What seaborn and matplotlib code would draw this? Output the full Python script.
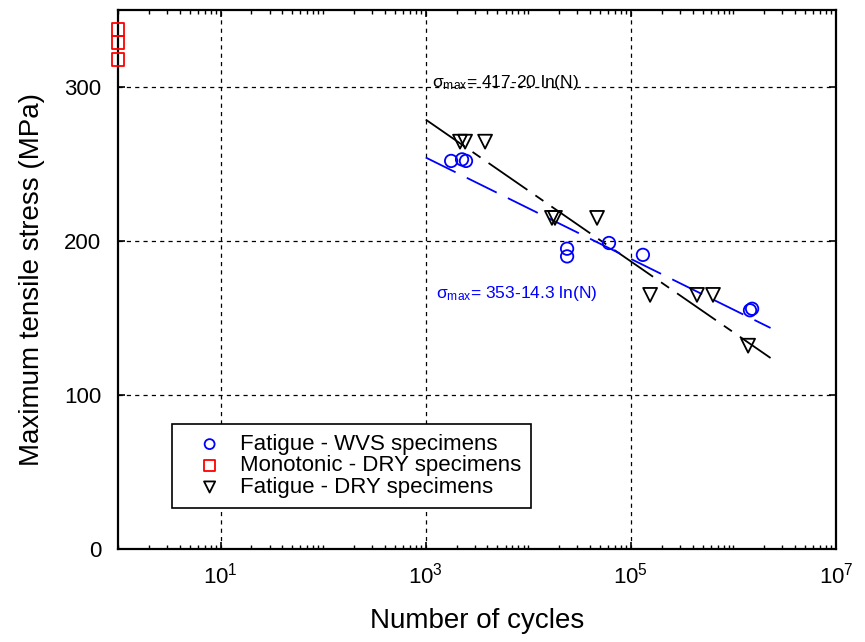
import numpy as np
import pandas as pd
import matplotlib
matplotlib.use('Agg')
import matplotlib.pyplot as plt
import matplotlib.ticker as mticker
import seaborn as sns

# data
wvs_cycles = [1770, 2260, 2470, 23900, 23900, 61200, 131000, 1450000, 1520000]
wvs_stress = [252, 253, 252, 195, 190, 198.7, 191, 155, 156]

mono_cycles = [1, 1, 1]
mono_stress = [337.5, 329, 318]

dry_cycles = [2160, 2420, 3790, 17000, 18200, 46800, 154000, 441000, 632000, 1390000]
dry_stress = [264.5, 264.5, 264.5, 215, 215, 215, 165, 165, 165, 132]

# fit lines: sigma = a - b ln(N)
fit_ends = [1e3, 2.3e6]
dry_fit = (417, 20)
wvs_fit = (353, 14.3)

sns.set_style('white')
plt.rcParams['font.family'] = ['Liberation Sans', 'DejaVu Sans']
plt.rcParams['mathtext.fontset'] = 'custom'
plt.rcParams['mathtext.rm'] = 'Liberation Sans'
plt.rcParams['mathtext.it'] = 'Liberation Sans'
plt.rcParams['mathtext.default'] = 'regular'
plt.rcParams['lines.scale_dashes'] = False
plt.rcParams['text.color'] = 'black'
plt.rcParams['axes.labelcolor'] = 'black'
plt.rcParams['xtick.color'] = 'black'
plt.rcParams['ytick.color'] = 'black'

wvs = pd.DataFrame({'N': wvs_cycles, 'S': wvs_stress})
mono = pd.DataFrame({'N': mono_cycles, 'S': mono_stress})
dry = pd.DataFrame({'N': dry_cycles, 'S': dry_stress})
fits = pd.DataFrame({'N': fit_ends})
fits['dry'] = dry_fit[0] - dry_fit[1] * np.log(fits['N'])
fits['wvs'] = wvs_fit[0] - wvs_fit[1] * np.log(fits['N'])

fig = plt.figure(figsize=(8.65, 6.42), dpi=100)
ax = fig.add_axes([0.1364, 0.1449, 0.8301, 0.8395])

ax.plot(fits['N'], fits['dry'], color='black', lw=1.3, ls=(0, (34, 7, 7, 7)))
ax.plot(fits['N'], fits['wvs'], color='blue', lw=1.3, ls=(0, (24, 9)))

sns.scatterplot(data=wvs, x='N', y='S', marker='o', s=80, facecolors='none',
                edgecolor='blue', linewidth=1.3, label='Fatigue - WVS specimens', ax=ax, zorder=3)
sns.scatterplot(data=mono, x='N', y='S', marker='s', s=85, facecolors='none',
                edgecolor='red', linewidth=1.3, label='Monotonic - DRY specimens', ax=ax,
                zorder=3, clip_on=False)
sns.scatterplot(data=dry, x='N', y='S', marker='v', s=100, facecolors='none',
                edgecolor='black', linewidth=1.3, label='Fatigue - DRY specimens', ax=ax, zorder=3)

ax.set_xscale('log')
ax.set_xlim(1, 1e7)
ax.set_ylim(0, 350)
ax.xaxis.set_major_locator(mticker.FixedLocator([1e1, 1e3, 1e5, 1e7]))
ax.xaxis.set_major_formatter(mticker.FuncFormatter(lambda v, p: r'$10^{%d}$' % round(np.log10(v))))
ax.xaxis.set_minor_locator(mticker.LogLocator(base=10, subs=np.arange(1, 10), numticks=20))
ax.xaxis.set_minor_formatter(mticker.NullFormatter())
ax.set_yticks([0, 100, 200, 300])

ax.tick_params(which='both', direction='in', top=True, right=True, bottom=True, left=True)
ax.tick_params(which='major', length=5, width=1.2, labelsize=16)
ax.tick_params(which='minor', length=3, width=1)
ax.tick_params(axis='y', pad=12)
ax.tick_params(axis='x', pad=10)

ax.grid(True, which='major', color='black', lw=0.9, ls=(0, (3, 3)))
for sp in ax.spines.values():
    sp.set_color('black')
    sp.set_linewidth(1.6)

ax.set_xlabel('Number of cycles', fontsize=20, labelpad=14)
ax.set_ylabel('Maximum tensile stress (MPa)', fontsize=20, labelpad=14)

ax.text(1150, 303, r'$\sigma_{max}$= 417-20 ln(N)', fontsize=12.5, color='black', va='center', ha='left')
ax.text(1260, 166, r'$\sigma_{max}$= 353-14.3 ln(N)', fontsize=12.5, color='blue', va='center', ha='left')

leg = ax.legend(loc='upper left', bbox_to_anchor=(0.075, 0.232), fontsize=16, frameon=True,
                fancybox=False, edgecolor='black', framealpha=1, handlelength=2.5,
                handletextpad=0.1, borderpad=0.45, labelspacing=0.02, markerscale=0.8,
                borderaxespad=0)
leg.get_frame().set_linewidth(1.2)

fig.savefig('out.png', dpi=100)
